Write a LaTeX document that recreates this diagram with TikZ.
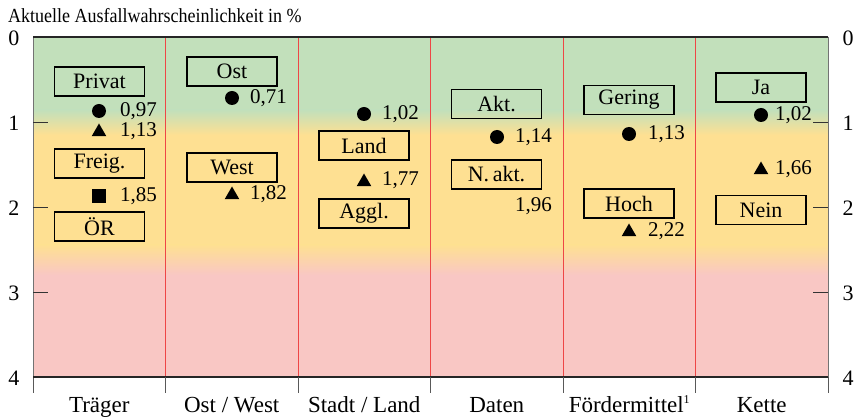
\documentclass[tikz,border=0pt]{standalone}
\usepackage{fontspec}
\setmainfont{Liberation Serif}
\newfontfamily\titlefont[FakeStretch=0.9]{Liberation Serif}
\usetikzlibrary{shapes.geometric}
\definecolor{bggreen}{RGB}{194,224,187}
\definecolor{bgyellow}{RGB}{254,224,146}
\definecolor{bgpink}{RGB}{249,199,196}
\definecolor{divred}{RGB}{238,70,70}
\begin{document}
\begin{tikzpicture}[x=1pt,y=-1pt,
  lbl/.style={draw=black, line width=1.8pt, minimum width=90pt, minimum height=29pt, inner sep=0pt, font=\fontsize{22}{22}\selectfont},
  val/.style={anchor=west, inner sep=0pt, font=\fontsize{21}{21}\selectfont},
  dot/.style={circle, fill=black, minimum size=14pt, inner sep=0pt},
  tri/.style={regular polygon, regular polygon sides=3, fill=black, minimum size=17pt, inner sep=0pt},
  sq/.style={rectangle, fill=black, minimum size=14pt, inner sep=0pt},
  axl/.style={inner sep=0pt, font=\fontsize{22}{22}\selectfont},
  cat/.style={anchor=base, inner sep=0pt, font=\fontsize{23}{23}\selectfont},
  divider/.style={divred, line width=0.8pt},
  tick/.style={black!80, line width=0.9pt}]
\useasboundingbox (0,0) rectangle (854,419);
\fill[white] (0,0) rectangle (854,419);
% background bands
\fill[bggreen] (33,37) rectangle (828,110);
\shade[top color=bggreen, bottom color=bgyellow] (33,110) rectangle (828,135);
\fill[bgyellow] (33,135) rectangle (828,245);
\shade[top color=bgyellow, bottom color=bgpink] (33,245) rectangle (828,275);
\fill[bgpink] (33,275) rectangle (828,377);
% dividers
\foreach \i in {1,...,5} {
  \draw[divider] ({33+132.5*\i},37) -- ({33+132.5*\i},377);
}
% frame
\draw[black!55, line width=0.9pt] (33,37) -- (33,377);
\draw[black!55, line width=0.9pt] (828,37) -- (828,377);
\draw[black!85, line width=1.2pt] (33,37) -- (828,37);
\draw[black!85, line width=2pt] (33,377) -- (828,377);
% bottom ticks
\foreach \i in {0,...,6} {
  \draw[black!65, line width=0.8pt] ({33+132.5*\i},377) -- ({33+132.5*\i},393);
}
% axis ticks
\foreach \v in {1,2,3} {
  \draw[tick] (33,{37+85*\v}) -- (48,{37+85*\v});
  \draw[tick] (813,{37+85*\v}) -- (828,{37+85*\v});
}
\draw[black!85, line width=2pt] (33,377) -- (48,377);
\draw[black!85, line width=2pt] (813,377) -- (828,377);
% axis labels
\foreach \v in {0,...,4} {
  \node[axl] (l\v) at (14,{38+85*\v}) {\v};
  \node[axl] (r\v) at (848,{38+85*\v}) {\v};
}
% title
\node[anchor=base west, inner sep=0pt, font=\titlefont\fontsize{20}{20}\selectfont] (title) at (8,23) {Aktuelle Ausfallwahrscheinlichkeit in \%};
% categories
\node[cat] (c1) at (99.25,413) {Träger};
\node[cat] (c2) at (231.75,413) {Ost / West};
\node[cat] (c3) at (364.25,413) {Stadt / Land};
\node[cat] (c4) at (496.75,413) {Daten};
\node[cat] (c5) at (629.25,413) {Fördermittel\raisebox{0.42em}{\fontsize{12}{12}\selectfont 1}};
\node[cat] (c6) at (761.75,413) {Kette};
% column 1
\node[lbl] (privat) at (99.5,81.5) {Privat};
\node[dot] (d1) at (99,111) {};
\node[val] (v1) at (120,111) {0,97};
\node[tri] (t1) at (99,132) {};
\node[val] (v2) at (120,131) {1,13};
\node[lbl] (freig) at (99.5,163.5) {Freig.};
\node[sq] (s1) at (99,196) {};
\node[val] (v3) at (120,196) {1,85};
\node[lbl] (oer) at (99.5,226.5) {ÖR};
% column 2
\node[lbl] (ost) at (232,71.5) {Ost};
\node[dot] (d2) at (232,98) {};
\node[val] (v4) at (250,98) {0,71};
\node[lbl] (west) at (232,167.5) {West};
\node[tri] (t2) at (232,195) {};
\node[val] (v5) at (250,194) {1,82};
% column 3
\node[dot] (d3) at (364,114) {};
\node[val] (v6) at (382,114) {1,02};
\node[lbl] (land) at (364,145.5) {Land};
\node[tri] (t3) at (364,182) {};
\node[val] (v7) at (382,180) {1,77};
\node[lbl] (aggl) at (364,213.5) {Aggl.};
% column 4
\node[lbl] (akt) at (496.5,104) {Akt.};
\node[dot] (d4) at (497,137) {};
\node[val] (v8) at (515,137) {1,14};
\node[lbl] (nakt) at (496.5,174.5) {N.\,akt.};
\node[val] (v9) at (515,206) {1,96};
% column 5
\node[lbl] (gering) at (629,100) {Gering};
\node[dot] (d5) at (629,134) {};
\node[val] (v10) at (648,134) {1,13};
\node[lbl] (hoch) at (629,203.5) {Hoch};
\node[tri] (t5) at (629,232) {};
\node[val] (v11) at (648,231) {2,22};
% column 6
\node[lbl] (ja) at (761,87.5) {Ja};
\node[dot] (d6) at (761,115) {};
\node[val] (v12) at (775,115) {1,02};
\node[tri] (t6) at (761,170) {};
\node[val] (v13) at (775,169) {1,66};
\node[lbl] (nein) at (761,210) {Nein};
\end{tikzpicture}
\end{document}
